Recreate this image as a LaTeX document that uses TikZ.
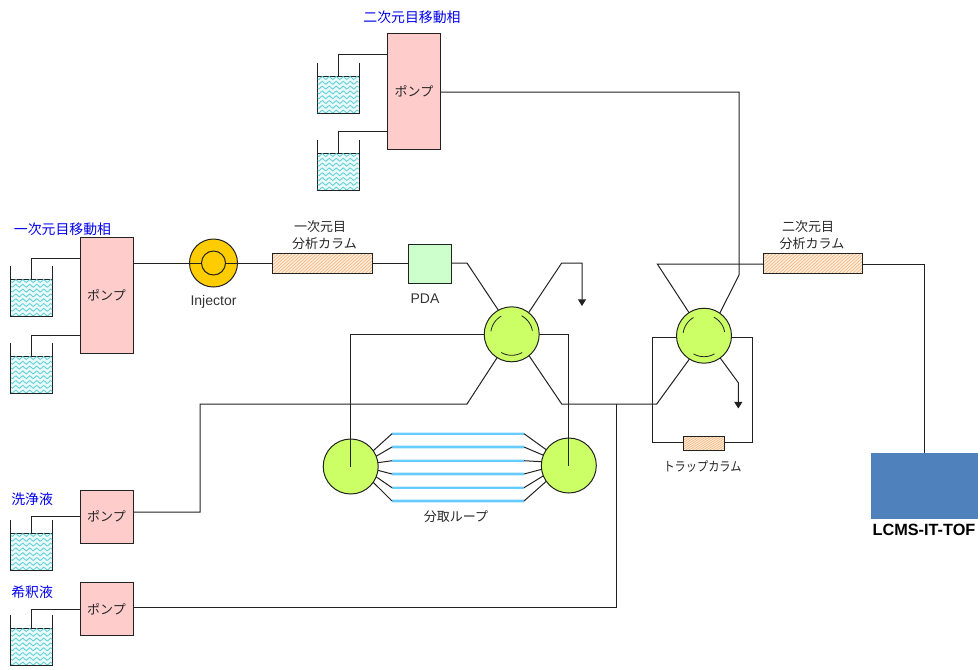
\documentclass[tikz,border=0pt]{standalone}
\usepackage{fontspec}
\usepackage{graphicx}
\setmainfont{Liberation Sans}
\newfontfamily\cjk{Noto Sans CJK JP}
\usetikzlibrary{arrows.meta,shadows}
\definecolor{pumpc}{HTML}{FFCCCC}
\definecolor{valvec}{HTML}{CCFF66}
\definecolor{injc}{HTML}{FFCC00}
\definecolor{pdac}{HTML}{CCFFCC}
\definecolor{msc}{HTML}{4F81BD}
\definecolor{loopc}{HTML}{66CCFF}
\definecolor{loophalo}{HTML}{CDEEFF}
\definecolor{wavec}{HTML}{5CCFD6}
\definecolor{liqc}{HTML}{EAF9F9}
\definecolor{hatchc}{HTML}{F7B37A}
\definecolor{colc}{HTML}{FFF0E0}
\definecolor{linec}{HTML}{222222}
\tikzset{
 x=0.75pt,y=-0.75pt,
 pipe/.style={draw=linec,line width=0.75pt},
 boxbase/.style={draw=linec,line width=0.75pt,inner sep=0pt,outer sep=0pt,rectangle},
 pumpbox/.style={boxbase,fill=pumpc,minimum width=39.75pt,drop shadow={shadow xshift=.6pt,shadow yshift=-.6pt,fill=gray,opacity=1}},
 pumptall/.style={pumpbox,minimum height=87pt},
 pumpshort/.style={pumpbox,minimum height=39.75pt},
 valvenode/.style={circle,draw=linec,line width=0.75pt,fill=valvec,inner sep=0pt,outer sep=0pt,minimum size=41.25pt},
 liquid/.style={boxbase,fill=liqc,minimum width=31.5pt,minimum height=27.75pt},
 columnbox/.style={boxbase,fill=colc},
 lab/.style={font=\cjk\fontsize{9.75pt}{11pt}\selectfont,text=black!85,inner sep=0pt},
 bluelab/.style={font=\cjk\fontsize{10.4pt}{11pt}\selectfont,text={rgb,255:red,0;green,0;blue,240},inner sep=0pt},
 latinlab/.style={font=\fontsize{10.5pt}{12pt}\selectfont,text=black!80,inner sep=0pt},
 drain/.style={pipe,-{Triangle[length=5pt,width=6pt]}}
}
% name, centre x, liquid top y
\newcommand{\beakerat}[3]{%
 \node[liquid] (#1) at (#2,#3+18.5) {};
 \begin{scope}
  \clip (#2-20.5,#3+.5) rectangle (#2+20.5,#3+36.5);
  \foreach \k in {0,...,7}{
   \draw[wavec,line width=0.6pt] plot[smooth,domain=-24:24,samples=29]
     ({#2+\x},{#3+2+\k*4.8+1.5*sin(\x*51.4)});
  }
 \end{scope}
 \draw[linec,line width=.75pt] (#1.north west) -- ++(0,-13);
 \draw[linec,line width=.75pt] (#1.north east) -- ++(0,-13);
}
% name, x1, y1, x2, y2
\newcommand{\columnat}[5]{%
 \node[columnbox,minimum width={(#4-#2)*0.75pt},minimum height={(#5-#3)*0.75pt}] (#1) at ({(#2+#4)/2},{(#3+#5)/2}) {};
 \begin{scope}
  \clip (#2,#3) rectangle (#4,#5);
  \foreach \k in {0,3.5,...,120}{
   \draw[hatchc,line width=0.5pt] (#2+\k-22,#5) -- (#2+\k,#3);
  }
 \end{scope}
 \draw[linec,line width=.75pt] (#2,#3) rectangle (#4,#5);
}
% node, radius
\newcommand{\valvearcs}[1]{%
 \begin{scope}[shift={(#1.center)}]
  \draw[linec,line width=.6pt] plot[smooth,domain=120:172,samples=9] ({21*cos(\x)},{-21*sin(\x)});
  \draw[linec,line width=.6pt] plot[smooth,domain=10:62,samples=9] ({21*cos(\x)},{-21*sin(\x)});
  \draw[linec,line width=.6pt] plot[smooth,domain=240:300,samples=9] ({21*cos(\x)},{-21*sin(\x)});
 \end{scope}
}
\begin{document}
\begin{tikzpicture}
\useasboundingbox (0,0) rectangle (980,669);

% pumps
\node[pumptall] (P2) at (414,91) {};
\node[pumptall] (P1) at (106.5,295) {};
\node[pumpshort] (PW) at (106.5,516.5) {};
\node[pumpshort] (PD) at (106.5,609) {};
\node[lab] at (P2.center) {ポンプ};
\node[lab] at (P1.center) {ポンプ};
\node[lab] at (PW.center) {ポンプ};
\node[lab] at (PD.center) {ポンプ};

% reservoirs
\beakerat{B1}{338}{76}
\beakerat{B2}{338}{153}
\beakerat{B3}{31.5}{279}
\beakerat{B4}{31.5}{356}
\beakerat{B5}{31.5}{533}
\beakerat{B6}{31.5}{628}
\draw[pipe] (B1.north) |- (P2.west |- 0,54);
\draw[pipe] (B2.north) |- (P2.west |- 0,131);
\draw[pipe] (B3.north) |- (P1.west |- 0,258);
\draw[pipe] (B4.north) |- (P1.west |- 0,335);
\draw[pipe] (B5.north) |- (PW.west);
\draw[pipe] (B6.north) |- (PD.west);

% injector, columns, detector
\node[circle,draw=linec,line width=.75pt,fill=injc,inner sep=0pt,outer sep=0pt,minimum size=36pt] (INJ) at (213.5,263) {};
\node[circle,draw=linec,line width=.75pt,fill=injc,inner sep=0pt,outer sep=0pt,minimum size=18pt] (INJI) at (213.5,263) {};
\columnat{C1}{272}{253}{372}{273}
\columnat{C2}{763}{253}{862}{273}
\columnat{TC}{683}{436}{724}{450}
\node[boxbase,fill=pdac,minimum width=32.25pt,minimum height=29.25pt] (PDA) at (429.5,264) {};
\node[boxbase,fill=msc,draw=msc,minimum width=79.5pt,minimum height=48.75pt] (MS) at (924,485.5) {};

% valves
\node[valvenode] (V1) at (511.7,334.3) {};
\node[valvenode] (V2) at (704,335.7) {};
\node[valvenode] (L1) at (350.7,466.5) {};
\node[valvenode] (L2) at (568.8,465.5) {};
\valvearcs{V1}
\valvearcs{V2}

% connectors
\draw[pipe] (P1.east |- INJI.west) -- (INJI.west);
\draw[pipe] (INJI.east) -- (C1.west |- INJI.east);
\draw[pipe] (C1.east) -- (PDA.west |- C1.east);
\draw[pipe] (PDA.east |- 0,263) -- (467,263) -- (V1.119);
\draw[drain] (V1.52) -- (561.7,263) -- (582,263) -- (582,306);
\draw[pipe] (V1.west) -- (350.7,334.3) -- (L1.center);
\draw[pipe] (V1.east) -- (568.8,334.3) -- (L2.center);
\draw[pipe] (V1.238) -- (467,404) -- (200,404) -- (200,512) -- (PW.east |- 0,512);
\draw[pipe] (V1.309) -- (561.7,404) -- (656.7,404) -- (V2.238);
\coordinate (J) at (616,404);
\draw[pipe] (J) -- (616,607) -- (PD.east |- 0,607);
\draw[pipe] (V2.123) -- (657.3,264) -- (C2.west |- 0,264);
\draw[pipe] (V2.55) -- (739,275) -- (739,92) -- (P2.east |- 0,92);
\draw[pipe] (V2.west |- 0,337.3) -- (652.7,337.3) -- (652.7,442.7) -- (TC.west |- 0,442.7);
\draw[pipe] (V2.east |- 0,337.3) -- (752,337.3) -- (752,442.7) -- (TC.east |- 0,442.7);
\draw[drain] (V2.306) -- (738.3,382.7) -- (738.3,408.5);
\draw[pipe] (C2.east |- 0,264) -- (924,264) -- (MS.north);

% fraction loops
\foreach \n/\yy/\aL/\aR in {a/433.7/35/145,b/447/22/158,c/460.7/8/172,d/474/-8/188,e/487.7/-22/202,f/501/-35/215}{
 \coordinate (LL\n) at (392,\yy);
 \coordinate (LR\n) at (524,\yy);
 \draw[loophalo,line width=2.6pt] (LL\n) -- (LR\n);
 \draw[loopc,line width=1.6pt] (LL\n) -- (LR\n);
 \draw[pipe] (L1.\aL) -- (LL\n);
 \draw[pipe] (L2.\aR) -- (LR\n);
}

% labels
\node[bluelab] at (412,17.5) {二次元目移動相};
\node[bluelab] at (62.5,229) {一次元目移動相};
\node[bluelab,anchor=west] at (11,499.5) {洗浄液};
\node[bluelab,anchor=west] at (11,592.5) {希釈液};
\node[lab] at (320,226.5) {一次元目};
\node[lab] at (324.5,243.5) {分析カラム};
\node[lab] at (808,226.5) {二次元目};
\node[lab] at (812,243.5) {分析カラム};
\node[lab] at (702.5,466.5) {\scalebox{0.86}[1]{トラップカラム}};
\node[lab] at (456,516.5) {分取ループ};
\node[latinlab] at (213.5,301.5) {Injector};
\node[latinlab] at (425,298.5) {PDA};
\node[font=\fontsize{12.2pt}{14pt}\selectfont\bfseries,text=black,inner sep=0pt] at (924,530) {LCMS-IT-TOF};
\end{tikzpicture}
\end{document}
